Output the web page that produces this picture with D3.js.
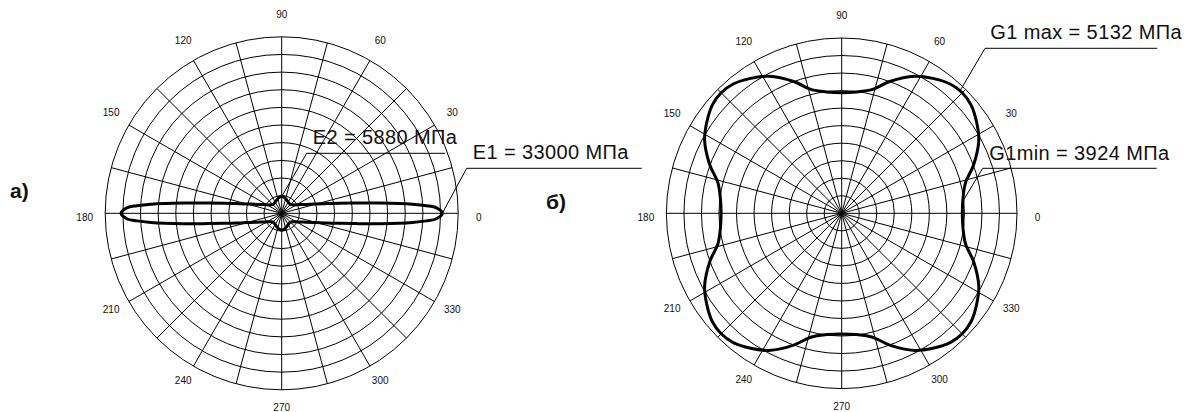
<!DOCTYPE html>
<html>
<head>
<meta charset="utf-8">
<script src="https://cdn.jsdelivr.net/npm/d3@7"></script>
<style>
  body { margin: 0; background: #fff; }
  text { font-family: "Liberation Sans", Arial, sans-serif; fill: #111; }
</style>
</head>
<body>
<div id="chart"></div>
<script>
// page size
var svgWidth = 1191;
var svgHeight = 412;

// angle labels round both plots
var angleTicks = [0, 30, 60, 90, 120, 150, 180, 210, 240, 270, 300, 330];
// spokes every 15 degrees, 10 rings
var spokeAngles = d3.range(0, 360, 15);
var ringCount = 10;

// plot a) : modulus of elasticity E, MPa
var eAngles = [0, 2, 3, 4, 6, 8, 10, 12, 15, 20, 25, 30, 37, 45, 53, 60, 70, 80,
  90, 100, 110, 120, 127, 135, 143, 150, 155, 160, 165, 168, 170, 172, 174, 176, 177, 178,
  180, 182, 183, 184, 186, 188, 190, 192, 195, 200, 205, 210, 217, 225, 233, 240, 250, 260,
  270, 280, 290, 300, 307, 315, 323, 330, 335, 340, 345, 348, 350, 352, 354, 356, 357, 358];
var eValues = [33000, 31950, 30060, 27420, 21380, 16660, 13640, 11570, 9490, 7600, 6600, 5900, 5350, 5050, 5050, 5150, 5400, 5700,
  5880, 5700, 5400, 5150, 5050, 5050, 5350, 5900, 6600, 7600, 9490, 11570, 13640, 16660, 21380, 27420, 30060, 31950,
  33000, 31950, 30060, 27420, 21380, 16660, 13640, 11570, 9490, 7600, 6600, 5900, 5350, 5050, 5050, 5150, 5400, 5700,
  5880, 5700, 5400, 5150, 5050, 5050, 5350, 5900, 6600, 7600, 9490, 11570, 13640, 16660, 21380, 27420, 30060, 31950];

// plot б) : shear modulus G, MPa
var gAngles = [0, 7, 14, 20, 28, 34, 40, 45, 50, 56, 62, 70, 76, 83,
  90, 97, 104, 110, 118, 124, 130, 135, 140, 146, 152, 160, 166, 173,
  180, 187, 194, 200, 208, 214, 220, 225, 230, 236, 242, 250, 256, 263,
  270, 277, 284, 290, 298, 304, 310, 315, 320, 326, 332, 340, 346, 353];
var gValues = [3924, 3963, 4096, 4400, 4764, 4946, 5092, 5132, 5092, 4946, 4764, 4400, 4096, 3963,
  3924, 3963, 4096, 4400, 4764, 4946, 5092, 5132, 5092, 4946, 4764, 4400, 4096, 3963,
  3924, 3963, 4096, 4400, 4764, 4946, 5092, 5132, 5092, 4946, 4764, 4400, 4096, 3963,
  3924, 3963, 4096, 4400, 4764, 4946, 5092, 5132, 5092, 4946, 4764, 4400, 4096, 3963];

// callouts: text, point on curve (angle, value)
var eNotes = ["E1 = 33000 МПа", "E2 = 5880 МПа"];
var eNoteAt = [[0, 33000], [90, 5880]];
var gNotes = ["G1 max = 5132 МПа", "G1min = 3924 МПа"];
var gNoteAt = [[46, 5132], [5, 3924]];

var panelLetters = ["а)", "б)"];

var svg = d3.select("#chart")
  .append("svg")
  .attr("width", svgWidth)
  .attr("height", svgHeight);

// layout of the two plots
var panels = [
  {
    cx: 281.7, cy: 213.3, R: 176.5, domain: [2700, 36000],
    angles: eAngles, values: eValues, notes: eNotes, noteAt: eNoteAt,
    // text x, baseline, underline x0, x1, y (offsets from centre)
    boxes: [[191, -54.5, 185, 360, -45], [31, -69.5, 25, 163.5, -60]],
    letter: panelLetters[0], letterPos: [10, 198]
  },
  {
    cx: 841.7, cy: 213.3, R: 175.3, domain: [1000, 5250],
    angles: gAngles, values: gValues, notes: gNotes, noteAt: gNoteAt,
    boxes: [[148.5, -174, 143.3, 315.6, -165], [147.5, -53.5, 141, 315, -45]],
    letter: panelLetters[1], letterPos: [546, 209]
  }
];

// angle in degrees (counter-clockwise from east) -> lineRadial angle
var angleScale = d3.scaleLinear()
  .domain([0, 360])
  .range([Math.PI / 2, Math.PI / 2 - 2 * Math.PI]);

panels.forEach(function(p) {
  var g = svg.append("g")
    .attr("transform", `translate(${p.cx}, ${p.cy})`);

  var rScale = d3.scaleLinear().domain(p.domain).range([0, p.R]);
  var ringScale = d3.scaleLinear().domain([0, ringCount]).range([0, p.R]);

  function px(a, v) {
    var r = rScale(v), t = angleScale(a);
    return [r * Math.sin(t), -r * Math.cos(t)];
  }

  // rings
  g.selectAll("circle.ring")
    .data(d3.range(1, ringCount + 1))
    .enter()
    .append("circle")
    .attr("r", d => ringScale(d))
    .attr("fill", "none")
    .attr("stroke", "#000")
    .attr("stroke-width", 1);

  // spokes
  g.selectAll("line.spoke")
    .data(spokeAngles)
    .enter()
    .append("line")
    .attr("x1", 0).attr("y1", 0)
    .attr("x2", d => p.R * Math.sin(angleScale(d)))
    .attr("y2", d => -p.R * Math.cos(angleScale(d)))
    .attr("stroke", "#000")
    .attr("stroke-width", 1);

  // angle labels (horizontal ones sit a bit lower)
  g.selectAll("text.tick")
    .data(angleTicks)
    .enter()
    .append("text")
    .attr("x", d => (p.R + 20.5) * Math.sin(angleScale(d)))
    .attr("y", d => -(p.R + 20) * Math.cos(angleScale(d)) + (d % 180 === 0 ? 4 : -2.5))
    .attr("text-anchor", "middle")
    .attr("dominant-baseline", "central")
    .attr("font-size", "10px")
    .text(d => d);

  // the curve
  var pts = p.angles.map((a, i) => ({a: a, v: p.values[i]}));
  var line = d3.lineRadial()
    .angle(d => angleScale(d.a))
    .radius(d => rScale(d.v))
    .curve(d3.curveCatmullRomClosed.alpha(0.5));

  g.append("path")
    .attr("d", line(pts))
    .attr("fill", "none")
    .attr("stroke", "#000")
    .attr("stroke-width", 3)
    .attr("stroke-linejoin", "round");

  // callouts
  p.notes.forEach(function(txt, i) {
    var b = p.boxes[i];
    var end = px(p.noteAt[i][0], p.noteAt[i][1]);
    g.append("polyline")
      .attr("points", `${b[3]},${b[4]} ${b[2]},${b[4]} ${end[0]},${end[1]}`)
      .attr("fill", "none")
      .attr("stroke", "#000")
      .attr("stroke-width", 1);
    g.append("text")
      .attr("x", b[0])
      .attr("y", b[1])
      .attr("font-size", "20px")
      .attr("letter-spacing", "0.4px")
      .text(txt);
  });

  svg.append("text")
    .attr("x", p.letterPos[0])
    .attr("y", p.letterPos[1])
    .attr("font-size", "21px")
    .attr("font-weight", "bold")
    .text(p.letter);
});
</script>
</body>
</html>
